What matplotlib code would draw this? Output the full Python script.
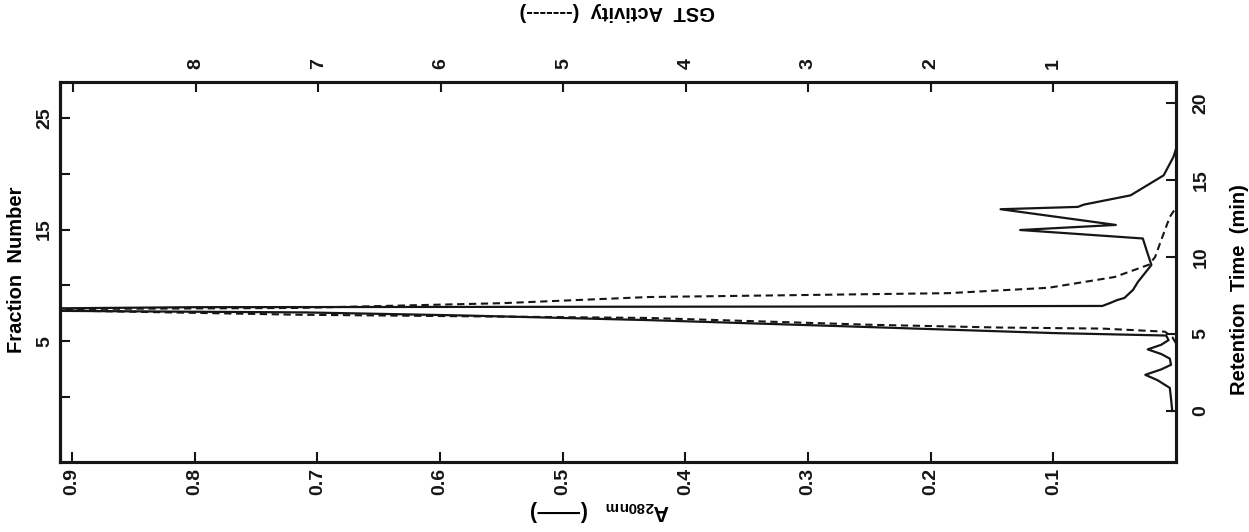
import matplotlib.pyplot as plt

plt.rcParams['font.family'] = ['Liberation Sans', 'DejaVu Sans']
plt.rcParams['font.weight'] = 'bold'
plt.rcParams['axes.labelweight'] = 'bold'
plt.rcParams['mathtext.fontset'] = 'custom'
plt.rcParams['mathtext.rm'] = 'Liberation Sans:bold'

# A280 trace (solid): retention time (min) vs absorbance
a280_time = [0.0, 0.8, 1.5, 2.0, 2.35, 2.7, 3.0, 3.4, 3.7, 4.0, 4.3, 4.6, 4.9,
             5.06, 5.5, 5.9, 6.2, 6.4, 6.5, 6.62, 6.74, 6.78, 6.82, 7.0, 7.2,
             7.34, 7.86, 8.38, 9.48, 10.45, 11.2, 11.75, 12.08, 13.1, 13.25,
             13.4, 14.0, 15.3, 16.5, 17.0]
a280 = [0.003, 0.004, 0.005, 0.015, 0.025, 0.012, 0.004, 0.005, 0.012, 0.023,
        0.012, 0.006, 0.008, 0.10, 0.27, 0.43, 0.58, 0.71, 0.91, 0.98, 0.80,
        0.30, 0.06, 0.054, 0.048, 0.042, 0.035, 0.031, 0.020, 0.024, 0.027,
        0.127, 0.049, 0.143, 0.080, 0.075, 0.037, 0.010, 0.002, 0.0]

# GST activity trace (dashed)
gst_time = [4.4, 4.8, 5.15, 5.35, 5.42, 5.6, 6.04, 6.25, 6.6, 6.69, 7.0, 7.4,
            7.65, 8.0, 8.7, 9.5, 10.0, 11.1, 12.6, 13.2]
gst = [0.0, 0.03, 0.09, 0.6, 1.45, 2.5, 4.3, 7.16, 9.6, 7.16, 5.5, 4.3,
       1.86, 1.04, 0.5, 0.22, 0.17, 0.12, 0.05, 0.0]

time_ticks = [0, 5, 10, 15, 20]
a280_ticks = [0.1, 0.2, 0.3, 0.4, 0.5, 0.6, 0.7, 0.8, 0.9]
gst_ticks = [1, 2, 3, 4, 5, 6, 7, 8, 9]
gst_labels = ['1', '2', '3', '4', '5', '6', '7', '8', '']
frac_ticks = [0, 5, 10, 15, 20, 25]
frac_labels = ['', '5', '', '15', '', '25']

ink = '#161616'
fs = 14
lfs = 14.5

fig = plt.figure(figsize=(12.49, 5.32), dpi=100)
ax = fig.add_axes([0.048, 0.1316, 0.8935, 0.7143])

ax.plot(a280, a280_time, color=ink, lw=1.6)
ax.set_xlim(0.910, 0)
ax.set_ylim(-3.31, 21.36)

# retention time on the right
ax.yaxis.tick_right()
ax.set_yticks(time_ticks)
ax.set_yticklabels([str(t) for t in time_ticks], rotation=90, va='center', fontsize=fs)
ax.set_ylabel('Retention  Time  (min)', rotation=90, fontsize=lfs)
ax.yaxis.set_label_position('right')
ax.yaxis.set_label_coords(1.048, 0.455)

ax.set_xticks(a280_ticks)
ax.set_xticklabels([f'{v:.1f}' for v in a280_ticks], rotation=90, fontsize=fs)
ax.set_xlabel(r'A$_{\mathrm{280nm}}$   (——)', rotation=180, fontsize=lfs + 1)
ax.xaxis.set_label_coords(0.484, -0.095)
ax.tick_params(direction='in', length=7, width=1.5, colors=ink)
ax.tick_params(axis='x', pad=4)
ax.tick_params(axis='y', pad=12)

# GST activity on the top axis
ax2 = ax.twiny()
ax2.plot(gst, gst_time, color=ink, lw=1.5, ls=(0, (3.5, 2.2)))
ax2.set_xlim(9.11, 0)
ax2.set_xticks(gst_ticks)
ax2.set_xticklabels(gst_labels, rotation=90, fontsize=fs)
ax2.set_xlabel('GST  Activity  (-------)', rotation=180, fontsize=lfs)
ax2.xaxis.set_label_coords(0.499, 1.171)
ax2.tick_params(direction='in', length=7, width=1.5, colors=ink, pad=9)

# fraction number on the left
frac = ax.secondary_yaxis('left', functions=(lambda t: 1.38 * (t - 0.91),
                                              lambda f: f / 1.38 + 0.91))
frac.set_yticks(frac_ticks)
frac.set_yticklabels(frac_labels, rotation=90, va='center', fontsize=fs)
frac.tick_params(direction='in', length=7, width=1.5, colors=ink, pad=5)
ax.text(-0.039, 0.505, 'Fraction  Number', rotation=90, ha='center', va='center',
        fontsize=lfs, fontweight='bold', transform=ax.transAxes)

for a in (ax, ax2):
    for s in a.spines.values():
        s.set_linewidth(2.2)
        s.set_color(ink)
frac.spines['left'].set_linewidth(2.2)

fig.savefig('out.png', dpi=100)
